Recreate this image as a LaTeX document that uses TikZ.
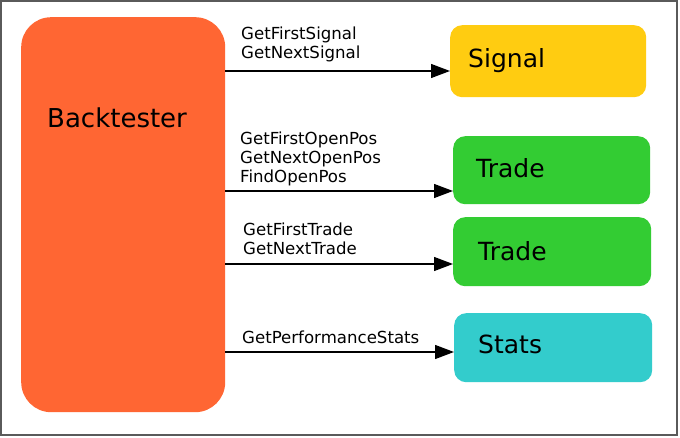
\documentclass[tikz,border=0pt]{standalone}
\usepackage{fontspec}
\setmainfont{DejaVu Sans}
\usetikzlibrary{arrows.meta}
\definecolor{btorange}{HTML}{FF6633}
\definecolor{sigyellow}{HTML}{FFCC11}
\definecolor{trgreen}{HTML}{33CC33}
\definecolor{stcyan}{HTML}{33CCCC}
\definecolor{framegray}{HTML}{5A5A5A}
\tikzset{
  box/.style={rounded corners=12pt, draw=none, anchor=north west, inner sep=0pt},
  bigtext/.style={anchor=base west, inner sep=0pt, font=\fontsize{25}{30}\selectfont},
  lbl/.style={anchor=base west, inner sep=0pt, font=\fontsize{16.6}{19}\selectfont},
  arr/.style={-{Triangle[length=19pt,width=14pt]}, line width=1.3pt, black},
}
\newcommand{\lines}[1]{\begin{tabular}[t]{@{}l@{}}#1\end{tabular}}
\begin{document}
\begin{tikzpicture}[x=1pt,y=-1pt]
\useasboundingbox (0,0) rectangle (680,438);
\fill[white] (0,0) rectangle (680,438);
\draw[framegray, line width=1.5pt] (1,1) rectangle (677,435);

\node[box, rounded corners=30pt, fill=btorange, minimum width=204pt, minimum height=395pt] (bt) at (21,17) {};
\node[bigtext, font=\fontsize{26}{31}\selectfont] (btt) at (47,128) {Backtester};

\node[box, fill=sigyellow, minimum width=196pt, minimum height=72pt] (sig) at (450,25) {};
\node[bigtext] (sigt) at (468,68) {Signal};

\node[box, fill=trgreen, minimum width=197pt, minimum height=68pt] (tra) at (453,136) {};
\node[bigtext] (trat) at (476,178) {Trade};

\node[box, fill=trgreen, minimum width=198pt, minimum height=69pt] (trb) at (453,217) {};
\node[bigtext] (trbt) at (478,261) {Trade};

\node[box, fill=stcyan, minimum width=198pt, minimum height=69pt] (st) at (454,313) {};
\node[bigtext] (stt) at (478,353) {Stats};

\coordinate (y1) at (0,71);
\coordinate (y2) at (0,191);
\coordinate (y3) at (0,264);
\coordinate (y4) at (0,352);

\draw[arr] (bt.east |- y1) -- (sig.west |- y1);
\draw[arr] (bt.east |- y2) -- (tra.west |- y2);
\draw[arr] (bt.east |- y3) -- (trb.west |- y3);
\draw[arr] (bt.east |- y4) -- (st.west |- y4);

\node[lbl] (l1) at (241,40) {\lines{GetFirstSignal\\GetNextSignal}};
\node[lbl] (l2) at (240,145) {\lines{GetFirstOpenPos\\GetNextOpenPos\\FindOpenPos}};
\node[lbl] (l3) at (243,236) {\lines{GetFirstTrade\\GetNextTrade}};
\node[lbl] (l4) at (242,343) {GetPerformanceStats};
\end{tikzpicture}
\end{document}
